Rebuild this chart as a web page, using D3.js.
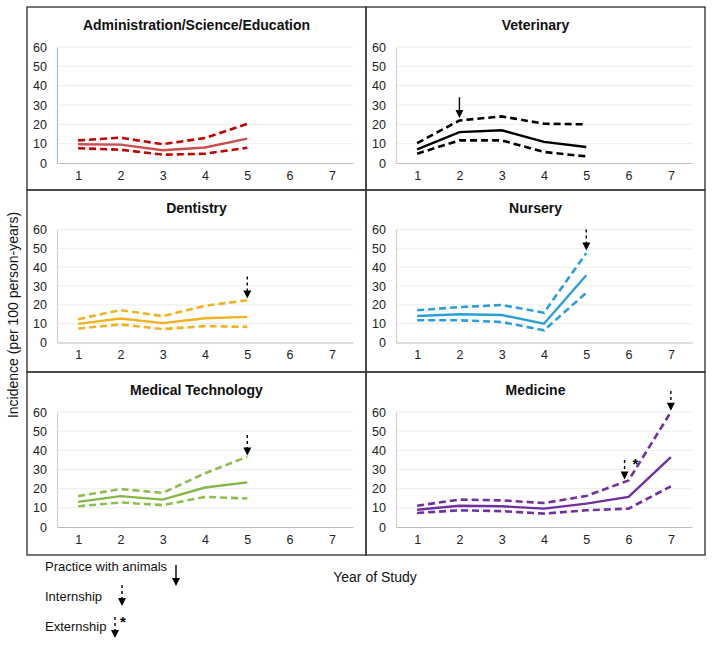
<!DOCTYPE html>
<html>
<head>
<meta charset="utf-8">
<script src="https://cdn.jsdelivr.net/npm/d3@7"></script>
<style>
  html, body { margin: 0; padding: 0; background: #fff; }
  svg { display: block; font-family: "Liberation Sans", Arial, sans-serif; }
</style>
</head>
<body>
<svg id="chart" width="714" height="646"></svg>
<script>
// ---------- data ----------
const years = [1, 2, 3, 4, 5, 6, 7];
const yTicks = [0, 10, 20, 30, 40, 50, 60];

const adminMean  = [9.7, 9.5, 6.6, 8.0, 12.6];
const adminUpper = [11.7, 13.1, 9.7, 12.9, 20.2];
const adminLower = [7.6, 6.9, 4.3, 4.8, 7.9];

const vetMean  = [7.1, 16.0, 16.9, 10.9, 8.3];
const vetUpper = [10.3, 22.0, 24.1, 20.3, 20.0];
const vetLower = [4.8, 11.7, 11.7, 5.7, 3.4];

const dentMean  = [9.9, 12.7, 10.3, 12.9, 13.6];
const dentUpper = [12.4, 17.2, 14.0, 19.5, 22.4];
const dentLower = [7.4, 9.6, 7.1, 8.7, 8.3];

const nurseMean  = [14.1, 15.0, 14.6, 10.0, 35.7];
const nurseUpper = [17.1, 18.8, 19.9, 15.8, 47.5];
const nurseLower = [11.8, 11.8, 10.9, 6.5, 26.4];

const medtechMean  = [13.1, 16.1, 14.3, 20.6, 23.3];
const medtechUpper = [16.1, 19.8, 17.8, 28.0, 36.7];
const medtechLower = [10.8, 12.8, 11.4, 15.7, 14.9];

const medMean  = [9.0, 11.1, 10.8, 9.6, 12.2, 15.7, 36.5];
const medUpper = [11.1, 14.3, 13.9, 12.5, 16.2, 24.3, 60.0];
const medLower = [7.3, 8.7, 8.3, 7.0, 8.7, 9.6, 21.2];

const panelTitles = ["Administration/Science/Education", "Veterinary", "Dentistry", "Nursery", "Medical Technology", "Medicine"];
const panelColors = ["#C00000", "#000000", "#F0B21E", "#2C9FD9", "#8DBE4F", "#7030A0"];
const meanColors  = ["#C9504F", "#000000", "#F0B21E", "#2C9FD9", "#84B846", "#7030A0"];

// annotations: [panel index, year, value from, value to (tip), type]
const arrows = [
  [1, 2, 34, 23.3, "solid"],
  [2, 5, 35, 23.3, "dashed"],
  [3, 5, 60, 48.8, "dashed"],
  [4, 5, 48, 37.3, "dashed"],
  [5, 7, 71, 60.6, "dashed"],
  [5, 6, 35, 24.8, "extern"]
];

// ---------- layout ----------
const svg = d3.select("#chart");
const colX = [27, 366];
const panelW = 339;
const rowY = [7, 190, 372];
const rowBottom = [190, 372, 555];
const plotTopRel = [40, 39.5, 40];
const plotBotRel = [156, 152.5, 155];

const panels = [
  { mean: adminMean, upper: adminUpper, lower: adminLower },
  { mean: vetMean, upper: vetUpper, lower: vetLower },
  { mean: dentMean, upper: dentUpper, lower: dentLower },
  { mean: nurseMean, upper: nurseUpper, lower: nurseLower },
  { mean: medtechMean, upper: medtechUpper, lower: medtechLower },
  { mean: medMean, upper: medUpper, lower: medLower }
];

const scales = [];

panels.forEach((p, i) => {
  const col = i % 2, row = Math.floor(i / 2);
  const x0 = colX[col], y0 = rowY[row];
  const g = svg.append("g").attr("transform", `translate(${x0},${y0})`);

  // border
  g.append("rect")
    .attr("x", 0).attr("y", 0)
    .attr("width", panelW).attr("height", rowBottom[row] - y0)
    .attr("fill", "none").attr("stroke", "#3a3a3a").attr("stroke-width", 1.4);

  const x = d3.scalePoint().domain(years).range([30, 326]).padding(0.5);
  const y = d3.scaleLinear().domain([0, 60]).range([plotBotRel[row], plotTopRel[row]]);
  scales.push({ x, y, x0, y0 });

  // title
  g.append("text")
    .attr("x", panelW / 2).attr("y", 23)
    .attr("text-anchor", "middle")
    .attr("font-size", 14).attr("font-weight", "bold").attr("fill", "#111")
    .text(panelTitles[i]);

  // gridlines
  g.append("g").selectAll("line").data(yTicks.filter(t => t > 0)).join("line")
    .attr("x1", 30).attr("x2", 326)
    .attr("y1", d => y(d)).attr("y2", d => y(d))
    .attr("stroke", "#EDEDED").attr("stroke-width", 1);

  // y axis
  const ya = g.append("g").attr("transform", "translate(30,0)")
    .call(d3.axisLeft(y).tickValues(yTicks).tickSize(0).tickPadding(10));
  ya.select(".domain").attr("stroke", i === 0 ? "#9DBDE3" : "#D0D0D0").attr("stroke-width", 1.2);
  ya.selectAll("text").attr("font-size", 12.5).attr("fill", "#222")
    .attr("font-family", "'Liberation Sans', Arial, sans-serif");

  // x axis
  const xa = g.append("g").attr("transform", `translate(0,${plotBotRel[row]})`)
    .call(d3.axisBottom(x).tickSize(0).tickPadding(8));
  xa.select(".domain").attr("stroke", "#BDBDBD").attr("stroke-width", 1.2);
  xa.selectAll("text").attr("font-size", 12.5).attr("fill", "#222")
    .attr("font-family", "'Liberation Sans', Arial, sans-serif");

  const line = d3.line().x((d, k) => x(years[k])).y(d => y(d));

  [p.upper, p.lower].forEach(arr => {
    g.append("path").datum(arr)
      .attr("d", line).attr("fill", "none")
      .attr("stroke", panelColors[i]).attr("stroke-width", 2.6)
      .attr("stroke-dasharray", "7,4");
  });
  g.append("path").datum(p.mean)
    .attr("d", line).attr("fill", "none")
    .attr("stroke", meanColors[i]).attr("stroke-width", 2.4);
});

// ---------- arrows ----------
function drawArrow(parent, cx, yFrom, yTip, dashed) {
  const headH = 8, headW = 4;
  parent.append("line")
    .attr("x1", cx).attr("x2", cx)
    .attr("y1", yFrom).attr("y2", yTip - headH + 1)
    .attr("stroke", "#000").attr("stroke-width", 1.4)
    .attr("stroke-dasharray", dashed ? "3,3" : null);
  parent.append("path")
    .attr("d", `M${cx - headW},${yTip - headH}L${cx + headW},${yTip - headH}L${cx},${yTip}Z`)
    .attr("fill", "#000");
}

const annG = svg.append("g");
arrows.forEach(([pi, yr, vFrom, vTo, type]) => {
  const s = scales[pi];
  const offset = type === "extern" ? -4 : 0;
  const cx = s.x0 + s.x(yr) + offset;
  drawArrow(annG, cx, s.y0 + s.y(vFrom), s.y0 + s.y(vTo), type !== "solid");
  if (type === "extern") {
    annG.append("text")
      .attr("x", cx + 8).attr("y", s.y0 + s.y(vFrom) + 9)
      .attr("font-size", 15).attr("font-weight", "bold").text("*");
  }
});

// ---------- axis titles ----------
svg.append("text")
  .attr("transform", "translate(18,315) rotate(-90)")
  .attr("text-anchor", "middle")
  .attr("font-size", 14).attr("fill", "#111")
  .text("Incidence (per 100 person-years)");

svg.append("text")
  .attr("x", 375).attr("y", 582)
  .attr("text-anchor", "middle")
  .attr("font-size", 14).attr("fill", "#111")
  .text("Year of Study");

// ---------- legend ----------
const leg = svg.append("g");
leg.append("text").attr("x", 45).attr("y", 571).attr("font-size", 13).attr("fill", "#111").text("Practice with animals");
drawArrow(leg, 176, 565, 586, false);
leg.append("text").attr("x", 45).attr("y", 601).attr("font-size", 13).attr("fill", "#111").text("Internship");
drawArrow(leg, 122, 585, 606, true);
leg.append("text").attr("x", 45).attr("y", 631).attr("font-size", 13).attr("fill", "#111").text("Externship");
drawArrow(leg, 115, 617, 638, true);
leg.append("text").attr("x", 120).attr("y", 627).attr("font-size", 15).attr("font-weight", "bold").text("*");
</script>
</body>
</html>
